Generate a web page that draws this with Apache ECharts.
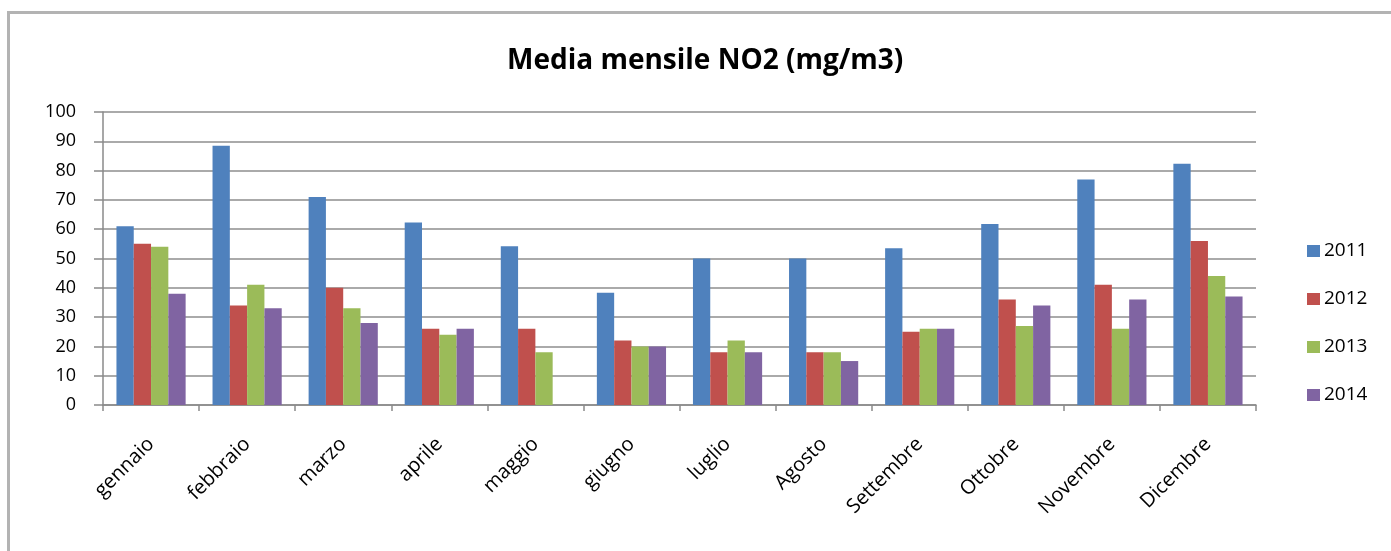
<!DOCTYPE html>
<html>
<head>
<meta charset="utf-8">
<script src="https://cdn.jsdelivr.net/npm/echarts@6/dist/echarts.min.js"></script>
<style>
  html, body { margin: 0; padding: 0; background: #fff; }
  #chart { width: 1391px; height: 551px; }
</style>
</head>
<body>
<div id="chart"></div>
<script>
const months = ['gennaio', 'febbraio', 'marzo', 'aprile', 'maggio', 'giugno', 'luglio', 'Agosto', 'Settembre', 'Ottobre', 'Novembre', 'Dicembre'];
const values2011 = [61, 88.5, 71, 62.3, 54.2, 38.3, 50, 50, 53.5, 61.8, 77, 82.3];
const values2012 = [55, 34, 40, 26, 26, 22, 18, 18, 25, 36, 41, 56];
const values2013 = [54, 41, 33, 24, 18, 20, 22, 18, 26, 27, 26, 44];
const values2014 = [38, 33, 28, 26, null, 20, 18, 15, 26, 34, 36, 37];
const yTicks = { min: 0, max: 100, interval: 10 };

const chart = echarts.init(document.getElementById('chart'));
const FONT = 'Open Sans';
const mk = (name, data, color) => ({
  name: name, type: 'bar', data: data,
  barGap: '0%', barCategoryGap: '28%',
  itemStyle: { color: color },
  emphasis: { disabled: true }
});
chart.setOption({
  animation: false,
  textStyle: { fontFamily: FONT },
  title: {
    text: 'Media mensile NO2 (mg/m3)',
    left: 507,
    top: 47,
    padding: 0,
    textStyle: { fontFamily: FONT, fontSize: 28, fontWeight: 'bold', color: '#000' }
  },
  graphic: [{
    type: 'rect',
    shape: { x: 8.5, y: 12.5, width: 1420, height: 600 },
    style: { fill: 'none', stroke: '#b3b3b3', lineWidth: 3 },
    silent: true
  }],
  legend: {
    orient: 'vertical',
    left: 1302,
    top: 236,
    itemWidth: 13,
    itemHeight: 12,
    itemGap: 28,
    icon: 'rect',
    textStyle: { fontFamily: FONT, fontSize: 19, color: '#000', lineHeight: 20, padding: [0, 0, 0, -1] },
    data: ['2011', '2012', '2013', '2014']
  },
  grid: { left: 103, right: 135, top: 112, bottom: 146, containLabel: false },
  xAxis: {
    type: 'category',
    data: months,
    boundaryGap: true,
    axisLine: { lineStyle: { color: '#8a8a8a', width: 1.5 } },
    axisTick: { show: true, length: 6, lineStyle: { color: '#8a8a8a', width: 1.5 } },
    axisLabel: { rotate: 45, margin: 36, fontFamily: FONT, fontSize: 20, color: '#000', interval: 0 }
  },
  yAxis: {
    type: 'value',
    min: yTicks.min, max: yTicks.max, interval: yTicks.interval,
    axisLine: { show: true, lineStyle: { color: '#8a8a8a', width: 1.5 } },
    axisTick: { show: true, length: 9, lineStyle: { color: '#8a8a8a', width: 1.5 } },
    axisLabel: { margin: 27, fontFamily: FONT, fontSize: 18, color: '#000' },
    splitLine: { show: true, lineStyle: { color: '#8e8e8e', width: 1.5 } }
  },
  series: [
    mk('2011', values2011, '#4F81BD'),
    mk('2012', values2012, '#C0504D'),
    mk('2013', values2013, '#9BBB59'),
    mk('2014', values2014, '#8064A2')
  ]
});
</script>
</body>
</html>
